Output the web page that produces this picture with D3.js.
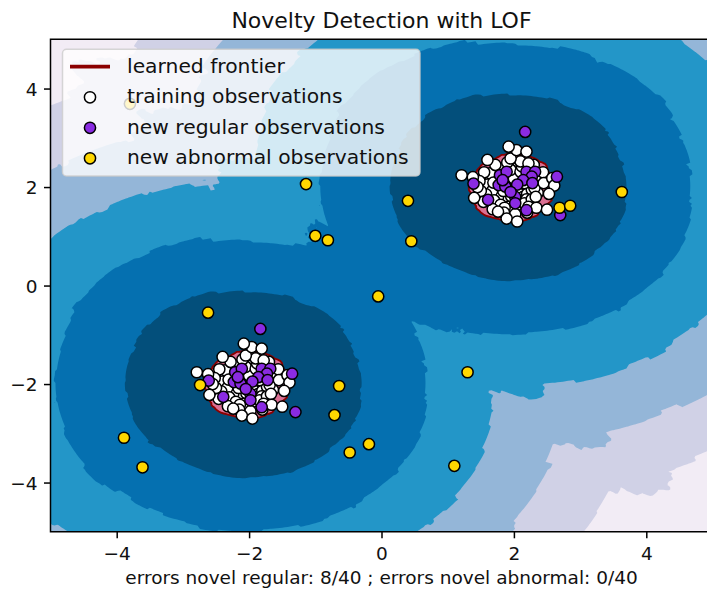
<!DOCTYPE html>
<html>
<head>
<meta charset="utf-8">
<script src="https://cdn.jsdelivr.net/npm/d3@7"></script>
<style>
  body { margin: 0; background: #fff; }
  svg text { font-family: "DejaVu Sans", sans-serif; fill: #111; }
</style>
</head>
<body>
<div class="chart"></div>
<script>
// both clusters share the same shape, shifted to these centres
const clusterCenters = [[2, 2], [-2, -2]];
// training observations, offsets from the cluster centre
const trainShape = [
  [0.05,0.02],[-0.08,0.06],[0.12,-0.05],[-0.03,-0.11],[0.02,0.13],[-0.12,-0.04],[0.09,0.09],[-0.06,-0.02],[0.01,-0.05],[0.11,0.03],
  [-0.10,0.11],[0.06,-0.12],
  [0.22,0.01],[0.25,0.10],[0.18,0.16],[0.12,0.22],[0.03,0.26],[-0.06,0.20],[-0.14,0.22],[-0.20,0.14],[-0.26,0.06],[-0.22,-0.03],
  [-0.27,-0.10],[-0.19,-0.17],[-0.12,-0.24],[-0.04,-0.19],[0.05,-0.27],[0.14,-0.20],[0.20,-0.14],[0.27,-0.05],[0.16,0.08],[-0.17,0.02],
  [0.08,0.18],[-0.09,0.27],[0.24,0.19],[-0.24,-0.20],[0.00,0.17],[0.19,-0.25],[-0.16,-0.08],
  [0.38,0.06],[0.34,0.20],[0.28,0.30],[0.18,0.36],[0.06,0.40],[-0.05,0.35],[-0.17,0.38],[-0.27,0.28],[-0.35,0.18],[-0.40,0.05],
  [-0.33,-0.08],[-0.42,-0.15],[-0.30,-0.27],[-0.20,-0.36],[-0.08,-0.40],[0.05,-0.36],[0.16,-0.33],[0.27,-0.25],[0.36,-0.12],[0.31,-0.02],
  [0.40,0.16],[0.10,0.31],[-0.36,0.28],[-0.14,-0.42],[0.22,-0.40],[-0.40,-0.28],[0.12,0.42],[-0.31,0.09],[0.33,-0.20],
  [0.44,0.30],[0.30,0.45],[0.10,0.52],[-0.10,0.50],[-0.28,0.45],[-0.45,0.30],[-0.52,0.12],[-0.50,-0.08],[-0.46,-0.30],[-0.32,-0.45],
  [-0.15,-0.52],[0.02,-0.55],[0.20,-0.52],[0.34,-0.42],[0.45,0.08],[-0.05,0.58],[-0.55,0.00],[0.22,0.48],[-0.24,-0.50],
  [0.04,0.75],[0.19,0.72],[0.58,0.18],[0.61,0.03],[0.53,-0.14],[-0.11,-0.64],[0.50,-0.46],[-0.60,-0.22],[-0.62,0.20],[-0.40,0.55],
  [-0.08,0.82],[-0.79,0.24],[0.05,-0.70]
];
// new regular observations, offsets from the cluster centre
const regularShape = [
  [0.17,1.12],[-0.61,0.07],[0.65,0.21],[-0.21,0.24],[-0.11,0.31],[-0.23,0.04],[-0.13,0.01],[0.19,0.31],[0.32,0.31],[0.27,0.21],
  [0.14,0.14],[-0.39,-0.26],[0.02,-0.20],[0.02,-0.33],[0.19,-0.47],[0.70,-0.57],[-0.17,0.14],[0.05,0.05],[-0.05,-0.10],[0.28,0.08]
];
// new abnormal observations
const abnormal = [
  [-3.80,3.69],[-1.14,2.06],[-1.00,1.01],[-0.81,0.92],[0.40,1.72],[0.45,0.90],[3.63,1.90],[2.69,1.58],[2.85,1.62],[-0.05,-0.22],
  [-2.62,-0.55],[-2.74,-2.02],[-0.64,-2.04],[-0.71,-2.63],[-0.48,-3.39],[-3.89,-3.09],[-3.61,-3.69],[-0.19,-3.22],[1.30,-1.76],[1.10,-3.66]
];
const xTicks = [-4, -2, 0, 2, 4];
const yTicks = [-4, -2, 0, 2, 4];
const legendLabels = ['learned frontier', 'training observations', 'new regular observations', 'new abnormal observations'];
const errRegular = 8, errAbnormal = 0, nTest = 40;

const nNeighbors = 20;
const contamination = 0.1;
const bandColors = ['#f2ecf5', '#d0d1e6', '#94b6d8', '#2396c8', '#0570b0', '#034f7b'];

const svg = d3.select('.chart').append('svg')
  .attr('width', 707)
  .attr('height', 590);

const x = d3.scaleLinear().domain([-5, 5]).range([50.5, 712.5]);
const y = d3.scaleLinear().domain([-5, 5]).range([531.8, 39.3]);

const shift = shape => clusterCenters.flatMap(c => shape.map(p => [c[0] + p[0], c[1] + p[1]]));
const train = shift(trainShape);
const regular = shift(regularShape);

// LOF (novelty mode) fitted on the training observations
function kNearest(px, py, skip) {
  const dd = new Array(nNeighbors).fill(Infinity);
  const ii = new Array(nNeighbors).fill(-1);
  for (let t = 0; t < train.length; t++) {
    if (t === skip) continue;
    const dx = train[t][0] - px, dy = train[t][1] - py;
    const d = dx * dx + dy * dy;
    if (d < dd[nNeighbors - 1]) {
      let j = nNeighbors - 1;
      while (j > 0 && dd[j - 1] > d) { dd[j] = dd[j - 1]; ii[j] = ii[j - 1]; j--; }
      dd[j] = d; ii[j] = t;
    }
  }
  return { d: dd.map(Math.sqrt), i: ii };
}
const fitNb = train.map((p, t) => kNearest(p[0], p[1], t));
const kDist = fitNb.map(r => r.d[nNeighbors - 1]);
const lrdOf = r => 1 / (d3.mean(r.i, (o, j) => Math.max(kDist[o], r.d[j])) + 1e-10);
const lrd = fitNb.map(lrdOf);
const nof = fitNb.map((r, t) => -d3.mean(r.i, o => lrd[o]) / lrd[t]);
const offset = d3.quantile(nof.slice().sort(d3.ascending), contamination);

// decision function on a grid
const n = 250;
const Z = new Float64Array(n * n);
for (let j = 0; j < n; j++) {
  const yv = 5 - (j + 0.5) * 10 / n;
  for (let i = 0; i < n; i++) {
    const xv = -5 + (i + 0.5) * 10 / n;
    const r = kNearest(xv, yv, -1);
    Z[j * n + i] = -d3.mean(r.i, o => lrd[o]) / lrdOf(r) - offset;
  }
}
const zMin = d3.min(Z);
const levels = d3.range(6).map(k => zMin + k * (0 - zMin) / 6);

const gridPath = d3.geoPath(d3.geoTransform({
  point: function(gx, gy) { this.stream.point(x(-5 + gx * 10 / n), y(5 - gy * 10 / n)); }
}));
const contours = d3.contours().size([n, n]);

svg.append('clipPath').attr('id', 'plot-clip')
  .append('rect')
    .attr('x', x(-5)).attr('y', y(5))
    .attr('width', x(5) - x(-5)).attr('height', y(-5) - y(5));

const plot = svg.append('g').attr('clip-path', 'url(#plot-clip)');

// filled bands
plot.append('g')
  .selectAll('path')
  .data(contours.thresholds(levels)(Z))
  .enter().append('path')
    .attr('d', gridPath)
    .attr('fill', (d, i) => bandColors[i]);

// frontier line, then inside filled
const zero = contours.thresholds([0])(Z)[0];
plot.append('path')
  .attr('d', gridPath(zero))
  .attr('fill', 'none')
  .attr('stroke', '#8b0000')
  .attr('stroke-width', 3.7);
plot.append('path')
  .attr('d', gridPath(zero))
  .attr('fill', '#db7093');

// scatter
const r = 5.6;
function scatter(pts, color) {
  plot.append('g')
    .selectAll('circle')
    .data(pts)
    .enter().append('circle')
      .attr('cx', d => x(d[0]))
      .attr('cy', d => y(d[1]))
      .attr('r', r)
      .attr('fill', color)
      .attr('stroke', '#000')
      .attr('stroke-width', 1.5);
}
scatter(train, '#ffffff');
scatter(regular, '#8a2be2');
scatter(abnormal, '#ffd700');

// axes
const fmt = d3.format('d');
const xAxis = svg.append('g')
  .attr('transform', 'translate(0,' + y(-5) + ')')
  .call(d3.axisBottom(x).tickValues(xTicks).tickFormat(fmt).tickSize(6.5).tickPadding(8.5).tickSizeOuter(0));
const yAxis = svg.append('g')
  .attr('transform', 'translate(' + x(-5) + ',0)')
  .call(d3.axisLeft(y).tickValues(yTicks).tickFormat(fmt).tickSize(6.5).tickPadding(6.5).tickSizeOuter(0));
[xAxis, yAxis].forEach(a => {
  a.select('.domain').remove();
  a.selectAll('.tick line').attr('stroke', '#000').attr('stroke-width', 1.5);
  a.selectAll('.tick text').style('font-size', '18.5px').attr('fill', '#111');
  a.attr('font-family', null);
});
yAxis.selectAll('.tick text').attr('dy', '0.36em');

// spines
svg.append('path')
  .attr('d', `M${x(5) + 1},${y(5)} H${x(-5)} V${y(-5)} H${x(5) + 1}`)
  .attr('fill', 'none')
  .attr('stroke', '#000')
  .attr('stroke-width', 1.5);

// title and x label
svg.append('text')
  .attr('x', (x(-5) + x(5)) / 2)
  .attr('y', 28.3)
  .attr('text-anchor', 'middle')
  .style('font-size', '22px')
  .text('Novelty Detection with LOF');
svg.append('text')
  .attr('x', (x(-5) + x(5)) / 2)
  .attr('y', 584)
  .attr('text-anchor', 'middle')
  .style('font-size', '18.5px')
  .text(`errors novel regular: ${errRegular}/${nTest} ; errors novel abnormal: ${errAbnormal}/${nTest}`);

// legend
const legend = svg.append('g');
legend.append('rect')
  .attr('x', 62.5).attr('y', 49.3)
  .attr('width', 357.5).attr('height', 126.7)
  .attr('rx', 4)
  .attr('fill', 'rgba(255,255,255,0.8)')
  .attr('stroke', 'rgba(204,204,204,0.8)')
  .attr('stroke-width', 1.5);
const rowY = [72.7, 103.3, 133.8, 164.3];
legend.append('line')
  .attr('x1', 70).attr('x2', 110)
  .attr('y1', rowY[0] - 6).attr('y2', rowY[0] - 6)
  .attr('stroke', '#8b0000')
  .attr('stroke-width', 3.7);
legend.selectAll('circle')
  .data(['#ffffff', '#8a2be2', '#ffd700'])
  .enter().append('circle')
    .attr('cx', 90)
    .attr('cy', (d, i) => rowY[i + 1] - 6)
    .attr('r', r)
    .attr('fill', d => d)
    .attr('stroke', '#000')
    .attr('stroke-width', 1.5);
legend.selectAll('text')
  .data(legendLabels)
  .enter().append('text')
    .attr('x', 127)
    .attr('y', (d, i) => rowY[i])
    .style('font-size', '20.3px')
    .text(d => d);
</script>
</body>
</html>
